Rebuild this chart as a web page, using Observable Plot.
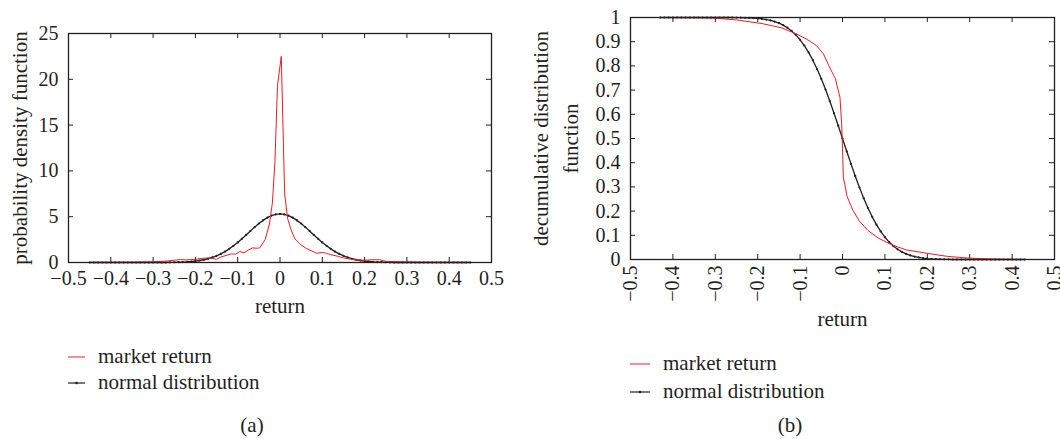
<!DOCTYPE html>
<html>
<head>
<meta charset="utf-8">
<script src="https://cdn.jsdelivr.net/npm/d3@7"></script>
<script src="https://cdn.jsdelivr.net/npm/@observablehq/plot@0.6"></script>
<style>
  html, body { margin: 0; padding: 0; background: #fff; }
  body { width: 1060px; height: 439px; position: relative; overflow: hidden;
         font-family: "Liberation Serif", serif; color: #231f20; }
  .panel { position: absolute; top: 0; }
  .leg { position: absolute; font-size: 21px; line-height: 1; white-space: nowrap; }
  .leg svg { position: absolute; }
  .cap { position: absolute; font-size: 21px; transform: translate(-50%, -50%); }
</style>
</head>
<body>
<div id="a" class="panel" style="left:0px"></div>
<div id="b" class="panel" style="left:520px"></div>
<div id="legA"></div>
<div id="legB"></div>
<div class="cap" style="left:252px; top:425px">(a)</div>
<div class="cap" style="left:790px; top:425px">(b)</div>
<script>
// ---------- data ----------
const xTicks = [-0.5, -0.4, -0.3, -0.2, -0.1, 0, 0.1, 0.2, 0.3, 0.4, 0.5];
const yTicksA = [0, 5, 10, 15, 20, 25];
const yTicksB = [0, 0.1, 0.2, 0.3, 0.4, 0.5, 0.6, 0.7, 0.8, 0.9, 1];
const seriesNames = ["market return", "normal distribution"];

// (a) probability density — market return
const marketPdfX = [-0.45, -0.40, -0.35, -0.30, -0.27, -0.25, -0.235, -0.22, -0.20, -0.185, -0.17, -0.16, -0.15, -0.14, -0.125, -0.115, -0.105, -0.095, -0.085, -0.075, -0.065, -0.055, -0.048, -0.035, -0.025, -0.018, -0.012, -0.006, 0.003, 0.011, 0.018, 0.026, 0.035, 0.05, 0.06, 0.073, 0.087, 0.1, 0.11, 0.12, 0.135, 0.15, 0.175, 0.2, 0.22, 0.235, 0.25, 0.28, 0.32, 0.38, 0.45];
const marketPdfY = [0.02, 0.03, 0.04, 0.08, 0.15, 0.25, 0.32, 0.28, 0.35, 0.45, 0.5, 0.45, 0.35, 0.6, 0.8, 0.95, 0.9, 1.2, 1.05, 1.35, 1.6, 1.55, 1.6, 2.5, 4.2, 6.5, 11, 19.3, 22.5, 7.5, 4.8, 3.6, 2.6, 1.9, 1.6, 1.3, 1.0, 1.1, 1.0, 0.85, 0.7, 0.5, 0.3, 0.25, 0.3, 0.3, 0.13, 0.08, 0.05, 0.03, 0.02];

// (a) normal distribution density, x from -0.45 to 0.45 step 0.01
const normalPdfX = d3.range(-45, 46).map(k => k / 100);
const normalPdfY = [
  0,0,0,0,0,0,0,0,0,0,
  0,0,0,0,0,0,0,0,0,
  0.01,0.02,0.033,0.05,0.074,0.11,0.16,0.22,0.30,0.41,
  0.55,0.73,0.94,1.19,1.49,1.82,2.19,2.59,3.01,3.44,
  3.86,4.25,4.60,4.90,5.12,5.25,
  5.30,
  5.25,5.12,4.90,4.60,4.25,3.86,
  3.44,3.01,2.59,2.19,1.82,1.49,1.19,0.94,0.73,0.55,
  0.41,0.30,0.22,0.16,0.11,0.074,0.05,0.033,0.02,0.01,
  0,0,0,0,0,0,0,0,0,
  0,0,0,0,0,0,0,0,0,0
];

// (b) decumulative distribution — market return
const marketDdfX = [-0.43, -0.35, -0.3, -0.25, -0.19, -0.143, -0.11, -0.086, -0.062, -0.045, -0.032, -0.017, -0.006, -0.002, 0, 0.002, 0.011, 0.024, 0.04, 0.06, 0.085, 0.117, 0.15, 0.198, 0.247, 0.296, 0.35, 0.43];
const marketDdfY = [1.0, 0.999, 0.997, 0.99, 0.975, 0.957, 0.933, 0.912, 0.885, 0.85, 0.80, 0.748, 0.67, 0.56, 0.46, 0.34, 0.26, 0.205, 0.158, 0.12, 0.088, 0.06, 0.04, 0.026, 0.013, 0.006, 0.002, 0];

// (b) normal distribution decumulative, x from -0.43 to 0.43 step 0.01
const normalDdfX = d3.range(-43, 44).map(k => k / 100);
const normalDdfY = [
  1,1,1,1,1,1,1,1,1,1,1,1,1,1,1,1,1,1,
  0.9995,0.9993,0.9989,0.9983,0.9974,0.996,0.9942,0.9916,0.988,0.9832,
  0.9768,0.9685,0.9579,0.9445,0.928,0.9079,0.884,0.856,0.8237,0.7872,
  0.7466,0.7024,0.6548,0.6047,0.5528,
  0.5,
  0.4472,0.3953,0.3452,0.2976,0.2534,
  0.2128,0.1763,0.144,0.116,0.0921,0.072,0.0555,0.0421,0.0315,0.0232,
  0.0168,0.012,0.0084,0.0058,0.004,0.0026,0.0017,0.0011,0.0007,0.0005,
  0,0,0,0,0,0,0,0,0,0,0,0,0,0,0,0,0,0
];

// ---------- style ----------
const RED = "#ec1c24";
const INK = "#231f20";
const fmt = d3.format("");
const TICK = 5;

function innerTicks(W, H, xt, yt) {
  return [
    Plot.tickX(xt, {x: d => d, insetTop: H - TICK, stroke: INK}),
    Plot.tickX(xt, {x: d => d, insetBottom: H - TICK, stroke: INK}),
    Plot.tickY(yt, {y: d => d, insetRight: W - TICK, stroke: INK}),
    Plot.tickY(yt, {y: d => d, insetLeft: W - TICK, stroke: INK})
  ];
}

// ---------- panel (a) ----------
{
  const width = 516, height = 325, mL = 68, mR = 25, mT = 33, mB = 63;
  const W = width - mL - mR, H = height - mT - mB;
  const chart = Plot.plot({
    width, height, marginLeft: mL, marginRight: mR, marginTop: mT, marginBottom: mB,
    style: {fontFamily: "Liberation Serif", fontSize: "20px", color: INK, background: "transparent"},
    x: {domain: [-0.5, 0.5]},
    y: {domain: [0, 25]},
    marks: [
      Plot.axisX(xTicks, {tickSize: 0, tickPadding: 8, tickFormat: fmt, label: null}),
      Plot.axisY(yTicksA, {tickSize: 0, tickPadding: 10, tickFormat: fmt, label: null}),
      ...innerTicks(W, H, xTicks, yTicksA),
      Plot.line(normalPdfY, {x: normalPdfX, y: normalPdfY, stroke: INK, strokeWidth: 1.3}),
      Plot.dot(normalPdfY, {x: normalPdfX, y: normalPdfY, r: 1.1, fill: INK, stroke: "none"}),
      Plot.line(marketPdfY, {x: marketPdfX, y: marketPdfY, stroke: RED, strokeWidth: 1}),
      Plot.frame({stroke: INK, strokeWidth: 1.3}),
      Plot.text(["return"], {frameAnchor: "bottom", dy: 50, textAnchor: "middle", fontSize: 21, fill: INK}),
      Plot.text(["probability density function"], {frameAnchor: "left", dx: -48, rotate: -90, textAnchor: "middle", fontSize: 21, fill: INK})
    ]
  });
  document.getElementById("a").append(chart);
}

// ---------- panel (b) ----------
{
  const width = 540, height = 340, mL = 110, mR = 6, mT = 17, mB = 81;
  const W = width - mL - mR, H = height - mT - mB;
  const chart = Plot.plot({
    width, height, marginLeft: mL, marginRight: mR, marginTop: mT, marginBottom: mB,
    style: {fontFamily: "Liberation Serif", fontSize: "20px", color: INK, background: "transparent", overflow: "visible"},
    x: {domain: [-0.5, 0.5]},
    y: {domain: [0, 1]},
    marks: [
      Plot.axisX(xTicks, {tickSize: 0, tickPadding: 6, tickRotate: -90, tickFormat: fmt, label: null}),
      Plot.axisY(yTicksB, {tickSize: 0, tickPadding: 10, tickFormat: fmt, label: null}),
      ...innerTicks(W, H, xTicks, yTicksB),
      Plot.line(normalDdfY, {x: normalDdfX, y: normalDdfY, stroke: INK, strokeWidth: 1.3}),
      Plot.dot(normalDdfY, {x: normalDdfX, y: normalDdfY, r: 1.1, fill: INK, stroke: "none"}),
      Plot.line(marketDdfY, {x: marketDdfX, y: marketDdfY, stroke: RED, strokeWidth: 1}),
      Plot.frame({stroke: INK, strokeWidth: 1.3}),
      Plot.text(["return"], {frameAnchor: "bottom", dy: 66, textAnchor: "middle", fontSize: 21, fill: INK}),
      Plot.text(["decumulative distribution"], {frameAnchor: "left", dx: -89, rotate: -90, textAnchor: "middle", fontSize: 21, fill: INK}),
      Plot.text(["function"], {frameAnchor: "left", dx: -59, rotate: -90, textAnchor: "middle", fontSize: 21, fill: INK})
    ]
  });
  document.getElementById("b").append(chart);
}

// ---------- legends ----------
function legend(el, left, top, swLen, textLeft, gap) {
  const host = document.getElementById(el);
  seriesNames.forEach((name, i) => {
    const y = top + i * gap;
    const d = document.createElement("div");
    d.className = "leg";
    d.style.left = left + "px";
    d.style.top = (y - 11) + "px";
    const color = i === 0 ? RED : INK;
    const dot = i === 1 ? `<circle cx="${swLen / 2}" cy="3" r="1.3" fill="${INK}"/>` : "";
    d.innerHTML = `<svg width="${swLen}" height="6" style="left:0;top:8px">
      <line x1="0" x2="${swLen}" y1="3" y2="3" stroke="${color}" stroke-width="${i === 0 ? 1 : 1.2}"/>${dot}</svg>
      <span style="position:absolute;left:${textLeft - left}px;top:0">${name}</span>`;
    host.append(d);
  });
}
legend("legA", 68, 357, 17, 98, 26);
legend("legB", 630, 364, 20, 663, 28);
</script>
</body>
</html>
